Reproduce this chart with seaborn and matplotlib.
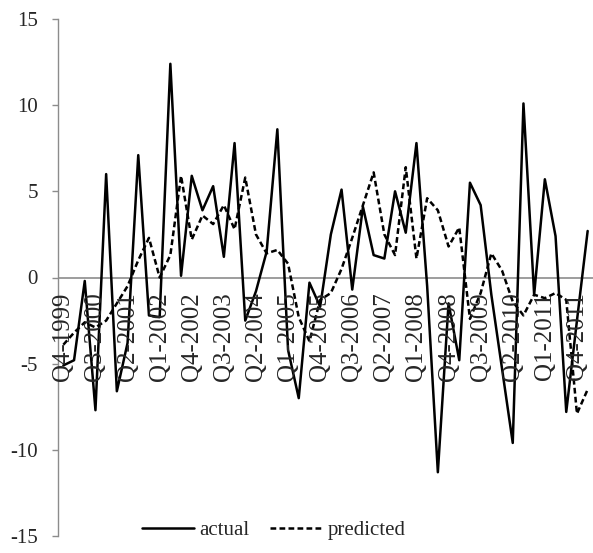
import numpy as np
import pandas as pd
import matplotlib
matplotlib.use("Agg")
import matplotlib.pyplot as plt
import seaborn as sns

# quarterly values, Q4-1999 .. Q1-2012
actual = [-5.1, -4.8, -0.2, -7.7, 6.0, -6.6, -3.8, 7.1, -2.2, -2.3,
          12.4, 0.1, 5.9, 3.9, 5.3, 1.2, 7.8, -2.5, -0.8, 1.5,
          8.6, -4.2, -7.0, -0.3, -1.7, 2.5, 5.1, -0.7, 4.1, 1.3,
          1.1, 5.0, 2.6, 7.8, -0.5, -11.3, -1.5, -4.8, 5.5, 4.2,
          -1.0, -5.3, -9.6, 10.1, -1.0, 5.7, 2.4, -7.8, -2.5, 2.7]
predicted = [-3.9, -3.2, -2.6, -2.9, -2.5, -1.5, -0.5, 1.0, 2.3, 0.0,
             1.3, 5.9, 2.2, 3.6, 3.1, 4.2, 2.8, 5.8, 2.5, 1.4,
             1.6, 0.8, -2.3, -3.7, -1.3, -0.9, 0.5, 2.3, 4.2, 6.1,
             2.5, 1.3, 6.4, 1.1, 4.6, 3.9, 1.8, 2.9, -2.4, -0.9,
             1.4, 0.4, -1.4, -2.2, -1.0, -1.2, -0.9, -1.3, -7.9, -6.5]

start_year, start_q = 1999, 4
quarters = []
for k in range(len(actual)):
    q = (start_q - 1 + k) % 4 + 1
    y = start_year + (start_q - 1 + k) // 4
    quarters.append(f"Q{q}-{y}")

df = pd.DataFrame({
    "idx": list(range(len(actual))) * 2,
    "value": actual + predicted,
    "series": ["actual"] * len(actual) + ["predicted"] * len(predicted),
})

sns.set_style("white")
plt.rcParams["font.family"] = ["Liberation Serif", "DejaVu Serif"]
plt.rcParams["axes.unicode_minus"] = False

fig = plt.figure(figsize=(5.93, 5.53), dpi=100)
ax = fig.add_axes([58 / 593, 1 - 536 / 553, 1 - 58 / 593, (536 - 19) / 553])

sns.lineplot(data=df, x="idx", y="value", style="series",
             dashes={"actual": "", "predicted": (2.3, 1.3)},
             color="black", linewidth=1.8, ax=ax, legend=True)

gray = "#8c8c8c"
ax.axhline(0, color=gray, linewidth=1.2, zorder=0)
ax.set_xlim(-0.5, len(actual) - 0.5)
ax.set_ylim(-15, 15)
ax.set_yticks([-15, -10, -5, 0, 5, 10, 15])
ax.set_xticks([])
ax.set_xlabel("")
ax.set_ylabel("")
for s in ["top", "right", "bottom"]:
    ax.spines[s].set_visible(False)
ax.spines["left"].set_color(gray)
ax.spines["left"].set_linewidth(1.0)
ax.tick_params(axis="y", direction="out", length=4.5, width=1.0,
               color=gray, pad=10, labelsize=15, left=True)

for k in range(0, len(quarters), 3):
    ax.text(k, -0.85, quarters[k], rotation=90, ha="center", va="top",
            fontsize=18)

handles, labels = ax.get_legend_handles_labels()
ax.get_legend().remove()
fig.legend(handles, labels, loc="center", bbox_to_anchor=(274 / 593, 1 - 530 / 553),
           ncol=2, frameon=False, fontsize=15, handlelength=2.5,
           handletextpad=0.25, columnspacing=1.0)

fig.savefig("out.png", dpi=100)
